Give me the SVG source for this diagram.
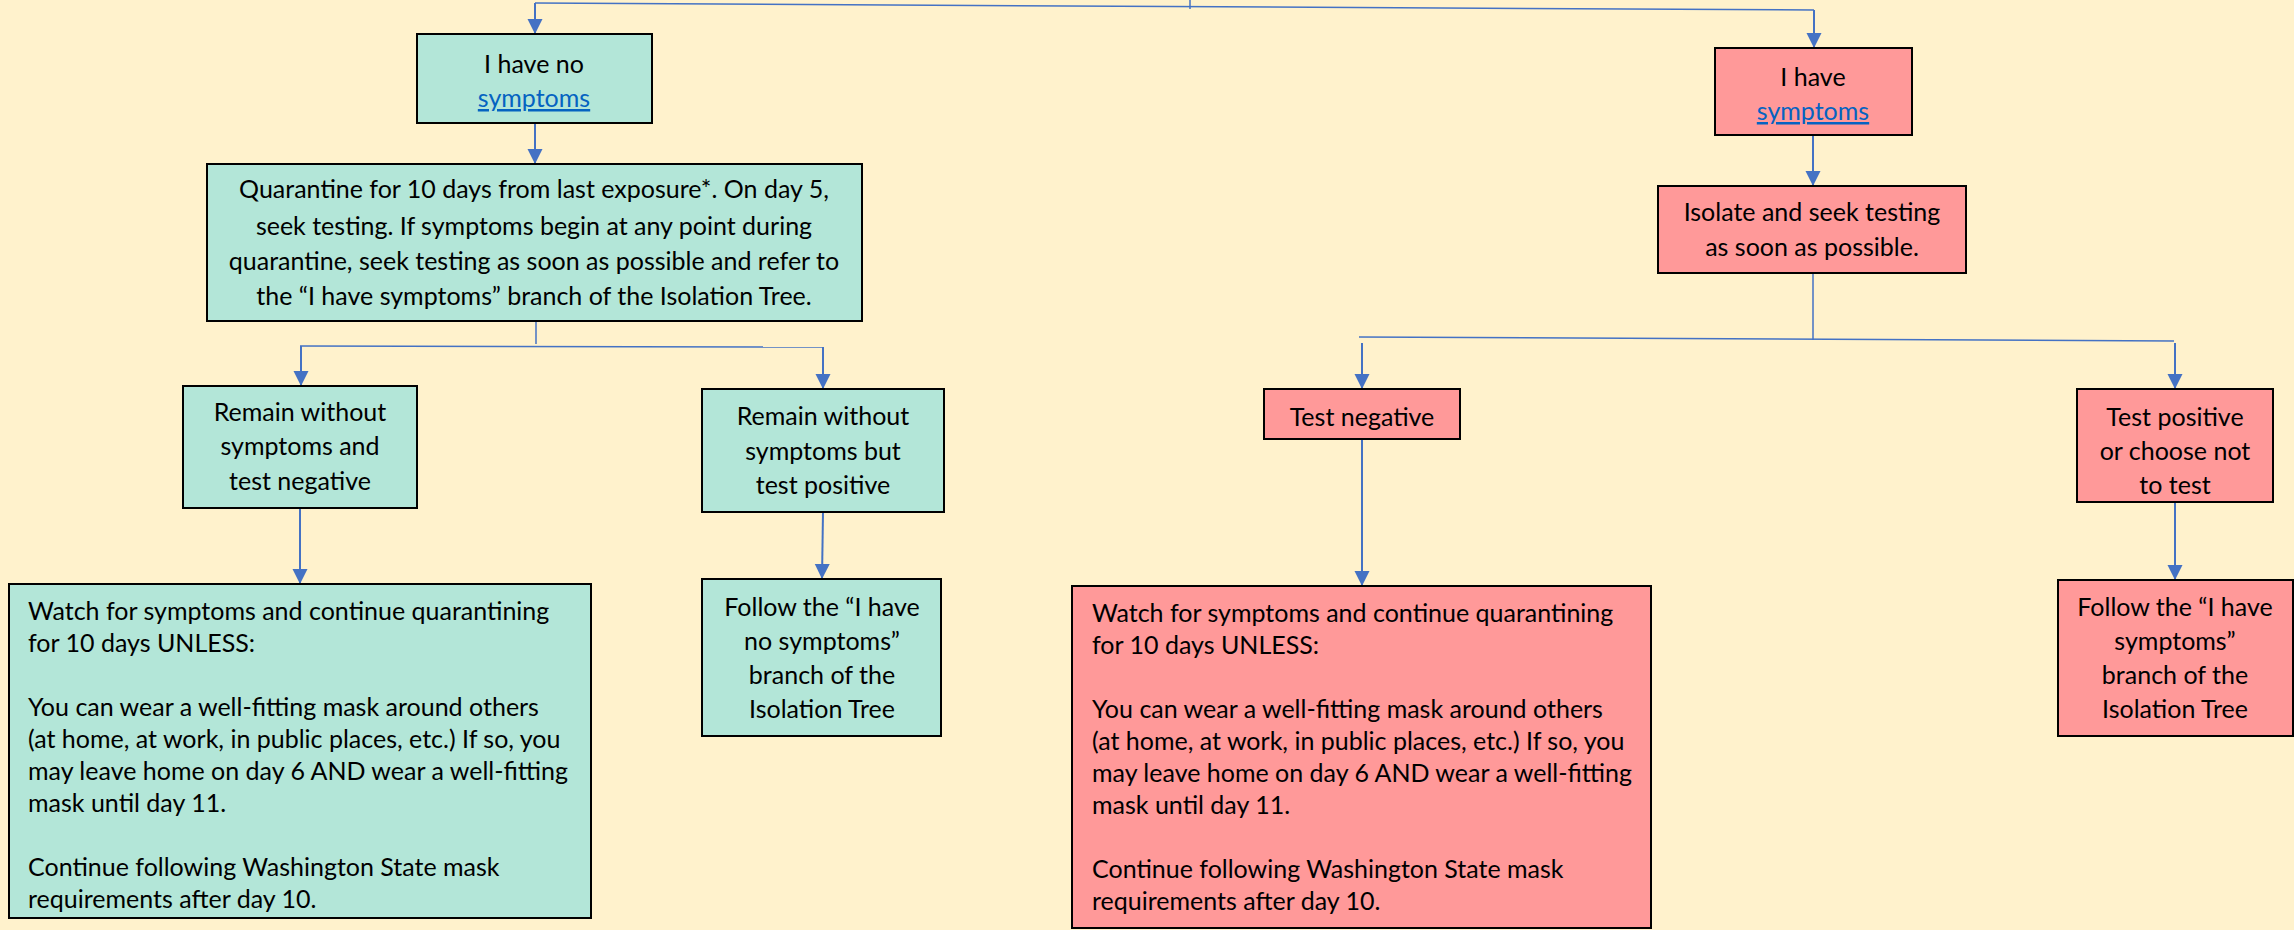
<svg xmlns="http://www.w3.org/2000/svg" width="2294" height="930" viewBox="0 0 2294 930">
<style>
.g{fill:#B3E6D8;stroke:#000;stroke-width:2}
.r{fill:#FF9999;stroke:#000;stroke-width:2}
text{font-family:Lato,"Liberation Sans",sans-serif;font-size:25px;fill:#000}
.c{text-anchor:middle}
.lk{fill:#0563C1;text-decoration:underline}
.ln{stroke:#4472C4;stroke-width:2;fill:none}
.hl{stroke:#4472C4;stroke-width:1.5;fill:none}
</style>
<defs>
<marker id="ah" markerUnits="userSpaceOnUse" markerWidth="16" markerHeight="16" refX="15" refY="7.5" orient="auto">
<path d="M0,0 L15,7.5 L0,15 z" fill="#4472C4"/>
</marker>
</defs>
<rect width="2294" height="930" fill="#FFF2CC"/>
<g id="connectors">
<line class="hl" x1="1190" y1="0" x2="1190" y2="9"/>
<line class="hl" x1="535" y1="3" x2="1814" y2="10"/>
<line class="ln" x1="535" y1="3" x2="535" y2="34" marker-end="url(#ah)"/>
<line class="ln" x1="1814" y1="10" x2="1814" y2="48" marker-end="url(#ah)"/>
<line class="ln" x1="535" y1="123" x2="535" y2="164" marker-end="url(#ah)"/>
<line class="hl" x1="536" y1="321" x2="536" y2="344"/>
<line class="hl" x1="300" y1="346" x2="823" y2="347"/>
<line class="ln" x1="301" y1="346" x2="301" y2="386" marker-end="url(#ah)"/>
<line class="ln" x1="823" y1="347" x2="823" y2="389" marker-end="url(#ah)"/>
<line class="ln" x1="300" y1="508" x2="300" y2="584" marker-end="url(#ah)"/>
<line class="ln" x1="823" y1="512" x2="822" y2="579" marker-end="url(#ah)"/>
<line class="ln" x1="1813" y1="135" x2="1813" y2="186" marker-end="url(#ah)"/>
<line class="hl" x1="1813" y1="273" x2="1813" y2="340"/>
<line class="hl" x1="1359" y1="337" x2="2174" y2="341"/>
<line class="ln" x1="1362" y1="343" x2="1362" y2="389" marker-end="url(#ah)"/>
<line class="ln" x1="2175" y1="343" x2="2175" y2="389" marker-end="url(#ah)"/>
<line class="ln" x1="1362" y1="439" x2="1362" y2="586" marker-end="url(#ah)"/>
<line class="ln" x1="2175" y1="502" x2="2175" y2="580" marker-end="url(#ah)"/>
</g>
<g id="noSymptoms">
<rect class="g" x="417" y="34" width="235" height="89"/>
<text class="c" x="534" y="73">I have no</text>
<text class="c lk" x="534" y="107">symptoms</text>
</g>
<g id="symptoms">
<rect class="r" x="1715" y="48" width="197" height="87"/>
<text class="c" x="1813" y="86">I have</text>
<text class="c lk" x="1813" y="120">symptoms</text>
</g>
<g id="quarantine">
<rect class="g" x="207" y="164" width="655" height="157"/>
<text class="c" x="534" y="198">Quarantine for 10 days from last exposure*. On day 5,</text>
<text class="c" x="534" y="235">seek testing. If symptoms begin at any point during</text>
<text class="c" x="534" y="270">quarantine, seek testing as soon as possible and refer to</text>
<text class="c" x="534" y="305">the “I have symptoms” branch of the Isolation Tree.</text>
</g>
<g id="isolate">
<rect class="r" x="1658" y="186" width="308" height="87"/>
<text class="c" x="1812" y="221">Isolate and seek testing</text>
<text class="c" x="1812" y="256">as soon as possible.</text>
</g>
<g id="remainNeg">
<rect class="g" x="183" y="386" width="234" height="122"/>
<text class="c" x="300" y="421">Remain without</text>
<text class="c" x="300" y="455">symptoms and</text>
<text class="c" x="300" y="490">test negative</text>
</g>
<g id="remainPos">
<rect class="g" x="702" y="389" width="242" height="123"/>
<text class="c" x="823" y="425">Remain without</text>
<text class="c" x="823" y="460">symptoms but</text>
<text class="c" x="823" y="494">test positive</text>
</g>
<g id="watchGreen">
<rect class="g" x="9" y="584" width="582" height="334"/>
<text x="28" y="620">Watch for symptoms and continue quarantining</text>
<text x="28" y="652">for 10 days UNLESS:</text>
<text x="28" y="716">You can wear a well-fitting mask around others</text>
<text x="28" y="748">(at home, at work, in public places, etc.) If so, you</text>
<text x="28" y="780">may leave home on day 6 AND wear a well-fitting</text>
<text x="28" y="812">mask until day 11.</text>
<text x="28" y="876">Continue following Washington State mask</text>
<text x="28" y="908">requirements after day 10.</text>
</g>
<g id="followGreen">
<rect class="g" x="702" y="579" width="239" height="157"/>
<text class="c" x="822" y="616">Follow the “I have</text>
<text class="c" x="822" y="650">no symptoms”</text>
<text class="c" x="822" y="684">branch of the</text>
<text class="c" x="822" y="718">Isolation Tree</text>
</g>
<g id="testNeg">
<rect class="r" x="1264" y="389" width="196" height="50"/>
<text class="c" x="1362" y="426">Test negative</text>
</g>
<g id="testPos">
<rect class="r" x="2077" y="389" width="196" height="113"/>
<text class="c" x="2175" y="426">Test positive</text>
<text class="c" x="2175" y="460">or choose not</text>
<text class="c" x="2175" y="494">to test</text>
</g>
<g id="watchRed">
<rect class="r" x="1072" y="586" width="579" height="342"/>
<text x="1092" y="622">Watch for symptoms and continue quarantining</text>
<text x="1092" y="654">for 10 days UNLESS:</text>
<text x="1092" y="718">You can wear a well-fitting mask around others</text>
<text x="1092" y="750">(at home, at work, in public places, etc.) If so, you</text>
<text x="1092" y="782">may leave home on day 6 AND wear a well-fitting</text>
<text x="1092" y="814">mask until day 11.</text>
<text x="1092" y="878">Continue following Washington State mask</text>
<text x="1092" y="910">requirements after day 10.</text>
</g>
<g id="followRed">
<rect class="r" x="2058" y="580" width="235" height="156"/>
<text class="c" x="2175" y="616">Follow the “I have</text>
<text class="c" x="2175" y="650">symptoms”</text>
<text class="c" x="2175" y="684">branch of the</text>
<text class="c" x="2175" y="718">Isolation Tree</text>
</g>
</svg>
